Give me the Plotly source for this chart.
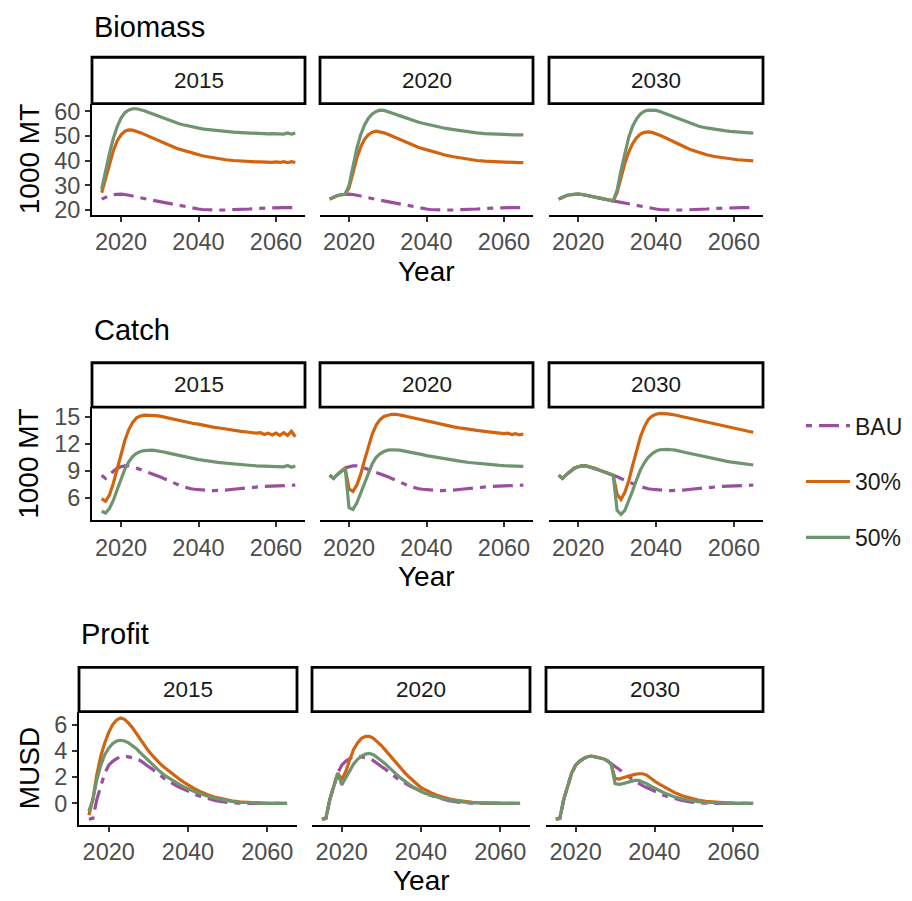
import plotly.graph_objects as go

# ---------------------------------------------------------------- data
YEARS = list(range(2015, 2046)) + [2047, 2049, 2051, 2053] + list(range(2055, 2066))
START_YEARS = [2015, 2020, 2030]
SCENARIOS = ["BAU", "30%", "50%"]

# Biomass (1000 MT)
BIOMASS_BAU = [24.4, 25.3, 25.9, 26.2, 26.4, 26.4, 26.3, 26.1, 25.7, 25.3,
               24.9, 24.5, 24.2, 24.0, 23.7, 23.4, 23.0, 22.6, 22.3, 21.9,
               21.6, 21.3, 21.0, 20.8, 20.6, 20.4, 20.2, 20.1, 20.05, 20.0, 20.0,
               20.0, 20.05, 20.2, 20.4,
               20.6, 20.7, 20.8, 20.85, 20.9, 20.95, 21.0, 21.0, 21.0, 21.0, 21.0]
BIOMASS_30_2015 = [27.0, 33.0, 39.0, 44.0, 48.0, 50.5, 52.0, 52.5, 52.4, 52.0,
                   51.4, 50.7, 50.0, 49.2, 48.5, 47.8, 47.1, 46.5, 45.9, 45.3,
                   44.7, 44.2, 43.7, 43.2, 42.8, 42.4, 42.0, 41.7, 41.4, 41.1, 40.8,
                   40.4, 40.1, 39.8, 39.6,
                   39.5, 39.5, 39.4, 39.5, 39.3, 39.5, 39.3, 39.6, 39.2, 39.6, 39.3]
BIOMASS_50_2015 = [28.5, 36.0, 43.0, 49.0, 53.8, 57.3, 59.5, 60.6, 61.1, 61.1,
                   60.8, 60.3, 59.7, 59.1, 58.4, 57.8, 57.2, 56.6, 56.0, 55.5,
                   55.0, 54.6, 54.2, 53.8, 53.5, 53.2, 52.9, 52.7, 52.5, 52.3, 52.1,
                   51.8, 51.6, 51.4, 51.2,
                   51.1, 51.0, 51.0, 50.9, 51.0, 50.9, 50.9, 50.8, 51.3, 50.8, 51.2]
BIOMASS_30_2020 = [29.0, 35.0, 41.0, 45.5, 48.7, 50.6, 51.6, 52.0, 51.8, 51.3,
                   50.7, 50.0, 49.3, 48.6, 47.9, 47.2, 46.6, 46.0, 45.4, 44.9,
                   44.4, 43.9, 43.4, 43.0, 42.6, 42.2,
                   41.6, 41.0, 40.5, 40.1,
                   39.8, 39.7, 39.6, 39.5, 39.4, 39.35, 39.3, 39.25, 39.2, 39.2, 39.2]
BIOMASS_50_2020 = [30.0, 38.0, 45.0, 50.5, 54.5, 57.3, 59.0, 60.0, 60.5, 60.4,
                   60.0, 59.5, 58.9, 58.3, 57.7, 57.1, 56.6, 56.1, 55.6, 55.2,
                   54.8, 54.4, 54.0, 53.7, 53.4, 53.1,
                   52.6, 52.1, 51.7, 51.3,
                   51.0, 50.9, 50.8, 50.7, 50.6, 50.55, 50.5, 50.5, 50.5, 50.5, 50.5]
BIOMASS_30_2030 = [27.0, 33.0, 39.0, 43.5, 47.0, 49.3, 50.8, 51.5, 51.7, 51.5,
                   51.0, 50.3, 49.6, 48.8, 48.0, 47.3,
                   45.9, 44.4, 43.3, 42.4,
                   41.7, 41.45, 41.2, 41.0, 40.8, 40.6, 40.4, 40.3, 40.1, 40.0, 39.9]
BIOMASS_50_2030 = [28.0, 36.0, 43.5, 49.5, 54.0, 57.0, 59.0, 60.1, 60.5, 60.6,
                   60.4, 60.0, 59.4, 58.8, 58.1, 57.5,
                   56.2, 55.0, 54.0, 53.3,
                   52.7, 52.5, 52.3, 52.1, 51.9, 51.75, 51.6, 51.5, 51.4, 51.3, 51.2]

# Catch (1000 MT)
CATCH_BAU = [8.5, 8.15, 8.6, 9.0, 9.3, 9.45, 9.55, 9.55, 9.45, 9.3,
             9.15, 9.0, 8.85, 8.7, 8.5, 8.35, 8.15, 7.95, 7.75, 7.55,
             7.4, 7.25, 7.1, 7.0, 6.95, 6.9, 6.85, 6.82, 6.8, 6.8, 6.8,
             6.85, 6.95, 7.05, 7.12,
             7.2, 7.23, 7.26, 7.29, 7.32, 7.34, 7.36, 7.37, 7.38, 7.39, 7.4]
CATCH_30_2015 = [5.9, 5.6, 6.3, 7.6, 9.2, 10.9, 12.4, 13.6, 14.4, 14.9,
                 15.1, 15.2, 15.2, 15.2, 15.15, 15.1, 15.0, 14.9, 14.8, 14.7,
                 14.6, 14.5, 14.4, 14.3, 14.25, 14.2, 14.1, 14.0, 13.95, 13.85, 13.8,
                 13.65, 13.5, 13.4, 13.3,
                 13.2, 13.25, 13.05, 13.2, 13.0, 13.2, 12.95, 13.25, 12.95, 13.4, 12.8]
CATCH_50_2015 = [4.5, 4.3, 4.8, 5.7, 6.9, 8.1, 9.2, 10.0, 10.6, 10.95,
                 11.15, 11.25, 11.3, 11.3, 11.25, 11.2, 11.1, 11.0, 10.9, 10.8,
                 10.7, 10.6, 10.5, 10.4, 10.3, 10.25, 10.2, 10.12, 10.05, 10.0, 9.95,
                 9.85, 9.75, 9.68, 9.62,
                 9.56, 9.54, 9.52, 9.5, 9.5, 9.48, 9.46, 9.45, 9.6, 9.4, 9.55]
CATCH_30_2020 = [7.0, 6.7, 7.4, 8.6, 10.2, 11.8, 13.1, 14.1, 14.7, 15.05,
                 15.2, 15.3, 15.3, 15.25, 15.15, 15.05, 14.95, 14.85, 14.75, 14.65,
                 14.55, 14.45, 14.35, 14.25, 14.15, 14.05,
                 13.9, 13.75, 13.6, 13.5,
                 13.4, 13.35, 13.3, 13.25, 13.2, 13.15, 13.2, 13.05, 13.15, 13.0, 13.1]
CATCH_50_2020 = [4.9, 4.7, 5.4, 6.5, 7.7, 8.9, 9.8, 10.5, 10.9, 11.15,
                 11.3, 11.35, 11.35, 11.3, 11.22, 11.15, 11.05, 10.95, 10.87, 10.8,
                 10.7, 10.62, 10.55, 10.47, 10.4, 10.33,
                 10.2, 10.05, 9.93, 9.83,
                 9.74, 9.7, 9.66, 9.63, 9.6, 9.57, 9.55, 9.53, 9.52, 9.5, 9.5]
CATCH_30_2030 = [6.4, 5.8, 6.6, 7.9, 9.6, 11.3, 12.8, 13.9, 14.7, 15.1,
                 15.3, 15.4, 15.4, 15.35, 15.3, 15.2,
                 15.0, 14.8, 14.6, 14.4,
                 14.2, 14.1, 14.0, 13.9, 13.8, 13.7, 13.6, 13.52, 13.45, 13.38, 13.3]
CATCH_50_2030 = [4.6, 4.15, 4.6, 5.6, 6.8, 8.0, 9.1, 9.9, 10.5, 10.9,
                 11.2, 11.35, 11.4, 11.4, 11.35, 11.3,
                 11.1, 10.9, 10.7, 10.5,
                 10.3, 10.22, 10.15, 10.08, 10.0, 9.93, 9.86, 9.8, 9.75, 9.7, 9.65]

# Profit (MUSD)
PROFIT_BAU = [-1.2, -1.15, 0.3, 1.4, 2.3, 2.9, 3.2, 3.4, 3.55, 3.6,
              3.55, 3.5, 3.4, 3.25, 3.0, 2.8, 2.6, 2.35, 2.1, 1.9,
              1.7, 1.5, 1.35, 1.2, 1.05, 0.9, 0.78, 0.66, 0.55, 0.45, 0.36,
              0.21, 0.1, 0.04, 0.01,
              0.0, 0.0, 0.0, 0.0, 0.0, 0.0, 0.0, 0.0, 0.0, 0.0, 0.0]
PROFIT_30_2015 = [-0.9, 0.3, 2.2, 3.6, 4.6, 5.4, 6.0, 6.35, 6.5, 6.4,
                  6.1, 5.75, 5.3, 4.85, 4.4, 4.0, 3.65, 3.3, 3.0, 2.75,
                  2.5, 2.25, 2.0, 1.8, 1.6, 1.4, 1.22, 1.05, 0.9, 0.77, 0.65,
                  0.45, 0.3, 0.19, 0.11,
                  0.06, 0.04, 0.03, 0.02, 0.01, 0.0, 0.0, 0.0, 0.0, 0.0, 0.0]
PROFIT_50_2015 = [-0.6, 0.3, 1.8, 2.9, 3.7, 4.2, 4.55, 4.75, 4.8, 4.75,
                  4.6, 4.4, 4.15, 3.85, 3.55, 3.25, 2.95, 2.65, 2.4, 2.15,
                  1.95, 1.75, 1.55, 1.4, 1.25, 1.1, 0.97, 0.85, 0.74, 0.63, 0.54,
                  0.38, 0.25, 0.15, 0.08,
                  0.04, 0.03, 0.02, 0.01, 0.0, 0.0, 0.0, 0.0, 0.0, 0.0, 0.0]
PROFIT_30_2020 = [1.8, 2.4, 3.3, 4.1, 4.6, 4.95, 5.1, 5.1, 4.95, 4.7,
                  4.4, 4.05, 3.7, 3.3, 2.95, 2.6, 2.3, 2.0, 1.7, 1.45,
                  1.2, 1.03, 0.88, 0.74, 0.62, 0.52,
                  0.35, 0.22, 0.13, 0.07,
                  0.03, 0.02, 0.01, 0.0, 0.0, 0.0, 0.0, 0.0, 0.0, 0.0, 0.0]
PROFIT_50_2020 = [1.4, 1.9, 2.5, 3.0, 3.35, 3.6, 3.75, 3.8, 3.7, 3.5,
                  3.25, 3.0, 2.7, 2.4, 2.15, 1.9, 1.65, 1.45, 1.25, 1.05,
                  0.9, 0.77, 0.66, 0.56, 0.47, 0.39,
                  0.26, 0.16, 0.09, 0.05,
                  0.02, 0.01, 0.0, 0.0, 0.0, 0.0, 0.0, 0.0, 0.0, 0.0, 0.0]
PROFIT_30_2030 = [1.9, 1.85, 1.95, 2.05, 2.15, 2.2, 2.25, 2.25, 2.15, 1.9,
                  1.7, 1.5, 1.32, 1.15, 0.98, 0.83,
                  0.58, 0.39, 0.25, 0.15,
                  0.09, 0.07, 0.05, 0.03, 0.02, 0.01, 0.0, 0.0, 0.0, 0.0, 0.0]
PROFIT_50_2030 = [1.5, 1.45, 1.5, 1.6, 1.7, 1.75, 1.75, 1.65, 1.5, 1.32,
                  1.15, 1.0, 0.86, 0.73, 0.61, 0.5,
                  0.33, 0.2, 0.12, 0.07,
                  0.04, 0.03, 0.02, 0.01, 0.0, 0.0, 0.0, 0.0, 0.0, 0.0, 0.0]

METRICS = ["Biomass", "Catch", "Profit"]
Y_TITLES = ["1000 MT", "1000 MT", "MUSD"]
Y_TICKS = [[20, 30, 40, 50, 60], [6, 9, 12, 15], [0, 2, 4, 6]]
X_TICKS = [2020, 2040, 2060]

BAU_SERIES = {"Biomass": BIOMASS_BAU, "Catch": CATCH_BAU, "Profit": PROFIT_BAU}
RESERVE_SERIES = {
    ("Biomass", "30%"): [BIOMASS_30_2015, BIOMASS_30_2020, BIOMASS_30_2030],
    ("Biomass", "50%"): [BIOMASS_50_2015, BIOMASS_50_2020, BIOMASS_50_2030],
    ("Catch", "30%"): [CATCH_30_2015, CATCH_30_2020, CATCH_30_2030],
    ("Catch", "50%"): [CATCH_50_2015, CATCH_50_2020, CATCH_50_2030],
    ("Profit", "30%"): [PROFIT_30_2015, PROFIT_30_2020, PROFIT_30_2030],
    ("Profit", "50%"): [PROFIT_50_2015, PROFIT_50_2020, PROFIT_50_2030],
}


def scenario_values(metric, scenario, col):
    """Reserve scenarios follow BAU until the reserve starts."""
    bau = BAU_SERIES[metric]
    if scenario == "BAU":
        return bau
    start = YEARS.index(START_YEARS[col])
    return bau[:start] + RESERVE_SERIES[(metric, scenario)][col]


# ---------------------------------------------------------------- styling
W, H = 912, 901
FONT = "Liberation Sans, Arial, sans-serif"
COLORS = {"BAU": "#9A4E9E", "30%": "#D2640F", "50%": "#6F9470"}
DASHES = {"BAU": "6px,7px,20px,7px", "30%": "solid", "50%": "solid"}
X_RANGE = [2012.5, 2067.5]
Y_RANGES = [[18.0, 63.2], [3.47, 16.1], [-1.65, 6.98]]
TICK_FONT = dict(size=23.5, color="#4D4D4D", family=FONT)

PANEL_Y = [(100, 213), (408, 523), (717, 832)]
STRIP_Y = [(53, 100), (363, 408), (672, 717)]
PANEL_X = [
    [(92, 305), (320, 533), (549, 763)],
    [(92, 305), (320, 533), (549, 763)],
    [(79, 297), (312, 530), (546, 763)],
]
TITLE_Y = [22, 330, 638]
YEAR_Y = [270, 580, 888]


def fx(p):
    return p / W


def fy(p):
    return 1 - p / H


fig = go.Figure()
layout = dict(
    width=W, height=H, margin=dict(l=0, r=0, t=0, b=0),
    paper_bgcolor="white", plot_bgcolor="white",
    font=dict(family=FONT, color="#1A1A1A"),
    showlegend=True,
)
shapes, annotations = [], []

for r, metric in enumerate(METRICS):
    for c in range(3):
        k = 3 * r + c + 1
        xs = "" if k == 1 else str(k)
        x0, x1 = PANEL_X[r][c]
        y0, y1 = PANEL_Y[r]
        layout["xaxis" + xs] = dict(
            domain=[fx(x0), fx(x1)], anchor="y" + xs, range=X_RANGE,
            tickvals=X_TICKS, showline=True, linecolor="black", linewidth=2,
            ticks="outside", ticklen=5, tickwidth=1.8, tickcolor="#333333",
            tickfont=TICK_FONT, showgrid=False, zeroline=False, fixedrange=True,
        )
        yax = dict(
            domain=[fy(y1), fy(y0)], anchor="x" + xs, range=Y_RANGES[r],
            tickvals=Y_TICKS[r], showgrid=False, zeroline=False, fixedrange=True,
        )
        if c == 0:
            yax.update(showline=True, linecolor="black", linewidth=2,
                       ticks="outside", ticklen=5, tickwidth=1.8, tickcolor="#333333",
                       tickfont=TICK_FONT)
        else:
            yax.update(visible=False)
        layout["yaxis" + xs] = yax

        for scen in SCENARIOS:
            fig.add_trace(go.Scatter(
                x=YEARS, y=scenario_values(metric, scen, c),
                xaxis="x" + xs, yaxis="y" + xs, mode="lines", name=scen,
                legendgroup=scen, showlegend=(k == 1),
                line=dict(color=COLORS[scen], width=3.2, dash=DASHES[scen]),
                hoverinfo="skip",
            ))

        # facet strip
        s0, s1 = STRIP_Y[r]
        shapes.append(dict(type="rect", xref="paper", yref="paper",
                           x0=fx(x0), x1=fx(x1), y0=fy(s1), y1=fy(s0),
                           line=dict(color="black", width=2.8), fillcolor="white"))
        annotations.append(dict(text=str(START_YEARS[c]), xref="paper", yref="paper",
                                x=fx((x0 + x1) / 2), y=fy((s0 + s1) / 2),
                                xanchor="center", yanchor="middle", showarrow=False,
                                font=dict(size=22.5, color="#1A1A1A")))

    # row title
    annotations.append(dict(text=metric, xref="paper", yref="paper",
                            x=fx(PANEL_X[r][0][0]), y=fy(TITLE_Y[r]),
                            xanchor="left", yanchor="middle", showarrow=False,
                            font=dict(size=29, color="black")))
    # y axis title
    annotations.append(dict(text=Y_TITLES[r], xref="paper", yref="paper",
                            x=fx(29), y=fy(sum(PANEL_Y[r]) / 2), textangle=-90,
                            xanchor="center", yanchor="middle", showarrow=False,
                            font=dict(size=28, color="black")))
    # x axis title
    annotations.append(dict(text="Year", xref="paper", yref="paper",
                            x=fx(sum(PANEL_X[r][1]) / 2), y=fy(YEAR_Y[r]),
                            xanchor="center", yanchor="middle", showarrow=False,
                            font=dict(size=28, color="black")))

layout["shapes"] = shapes
layout["annotations"] = annotations
layout["legend"] = dict(
    x=fx(801), y=fy(405), xanchor="left", yanchor="top",
    font=dict(size=23, color="#1A1A1A", family=FONT),
    tracegroupgap=23, itemwidth=44, bgcolor="rgba(0,0,0,0)",
)
fig.update_layout(**layout)
fig.write_html("out.html")
